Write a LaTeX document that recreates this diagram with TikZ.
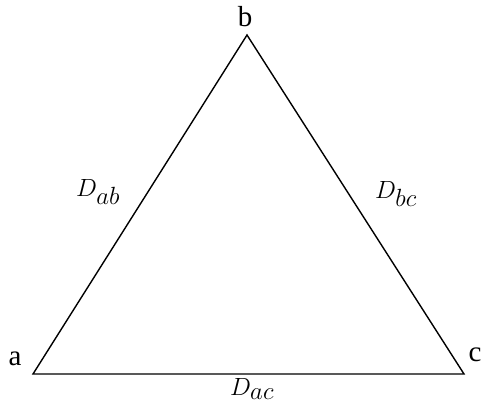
\documentclass[tikz,border=0pt]{standalone}
\usepackage{fontspec}
\setmainfont{Liberation Serif}
\begin{document}
\begin{tikzpicture}[x=1pt, y=-1pt]
    \useasboundingbox (0,0) rectangle (482,405);
    {
        \tikzset{every node/.style = {inner sep=0pt, font=\fontsize{29}{34}\selectfont}}

        \coordinate (va) at (33, 374);
        \coordinate (vb) at (247, 35);
        \coordinate (vc) at (464, 374);

        \node (la) at (15, 359) {a};
        \node (lb) at (245, 17) {b};
        \node (lc) at (475, 355) {c};

        \node (dab) at (98, 192) {\fontsize{33}{38}\selectfont$D_{ab}$};
        \node (dbc) at (396, 194) {\fontsize{33}{38}\selectfont$D_{bc}$};
        \node (dac) at (252, 389) {\fontsize{33}{38}\selectfont$D_{ac}$};
    }

        \draw[line width=1.4pt] (va) -- (vb) -- (vc) -- cycle;

    \end{tikzpicture}
\end{document}
